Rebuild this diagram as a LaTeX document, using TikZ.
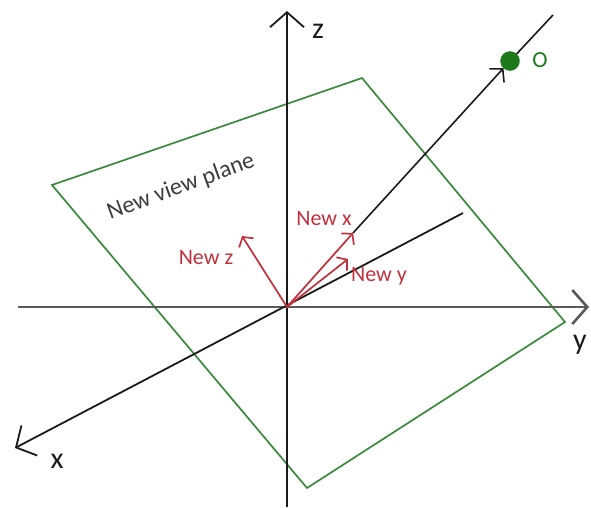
\documentclass[tikz,border=0pt]{standalone}
\usepackage{fontspec}
\setmainfont{Carlito}
\usetikzlibrary{arrows.meta}
\definecolor{ink}{HTML}{1a1a1a}
\definecolor{axisgray}{HTML}{5a5a5a}
\definecolor{planegreen}{HTML}{3b8a3b}
\definecolor{dotgreen}{HTML}{1c7a1c}
\definecolor{newred}{HTML}{c2303c}

\begin{document}
\begin{tikzpicture}[x=1pt, y=-1pt,
  ax/.style={line width=1.8pt, ink, -{Straight Barb[length=15pt, width=34pt]}},
  plane/.style={draw=planegreen, line width=1.7pt},
  vec/.style={line width=1.7pt, newred, -{Straight Barb[length=7pt, width=17pt]}},
  lbl/.style={font=\fontsize{30}{32}\selectfont, ink, inner sep=0pt},
  rlbl/.style={font=\fontsize{22}{24}\selectfont, newred, inner sep=0pt},
  dot/.style={circle, fill=dotgreen, draw=dotgreen, minimum size=19pt, inner sep=0pt}
]
  \useasboundingbox (0,0) rectangle (591,507);

  \coordinate (o) at (287,307);
  \coordinate (p1) at (52,185);
  \coordinate (p2) at (362,78);
  \coordinate (p3) at (565,322);
  \coordinate (p4) at (307,488);

  % view plane
  \draw[plane] (p1) -- (p2) -- (p3) -- (p4) -- cycle;
  \node[font=\fontsize{24}{26}\selectfont, ink!85, rotate=20, inner sep=0pt] (pname) at (181,187) {New view plane};

  % axes
  \coordinate (zb) at (287,507);
  \coordinate (zt) at (287,11);
  \coordinate (yl) at (18,307);
  \coordinate (yr) at (589,307);
  \coordinate (xe) at (463,213);
  \coordinate (xt) at (15,448);
  \draw[ax] (zb) -- (zt);
  \draw[ax, axisgray, line width=2.6pt] (yl) -- (yr);
  \draw[ax] (xe) -- (xt);
  \node[lbl] (zlbl) at (318,31) {z};
  \node[lbl] (ylbl) at (580,345) {y};
  \node[lbl] (xlbl) at (57,461) {x};

  % new axes
  \coordinate (nx) at (353,233);
  \coordinate (ny) at (348,259);
  \coordinate (nz) at (242,236);
  \draw[vec] (o) -- (nx);
  \draw[vec] (o) -- (ny);
  \draw[vec] (o) -- (nz);
  \node[rlbl] (nxlbl) at (324,219) {New x};
  \node[rlbl] (nylbl) at (379,276) {New y};
  \node[rlbl] (nzlbl) at (206,258) {New z};

  % eye point
  \node[dot] (eye) at (510,61) {};
  \coordinate (top) at (553,15);
  \draw[line width=1.6pt, ink, -{Straight Barb[length=9pt, width=20pt]}] (nx) -- (eye);
  \draw[line width=1.6pt, ink] (eye) -- (top);
  \node[font=\fontsize{23}{25}\selectfont, dotgreen, inner sep=0pt] (olbl) at (540,60) {O};
\end{tikzpicture}
\end{document}
